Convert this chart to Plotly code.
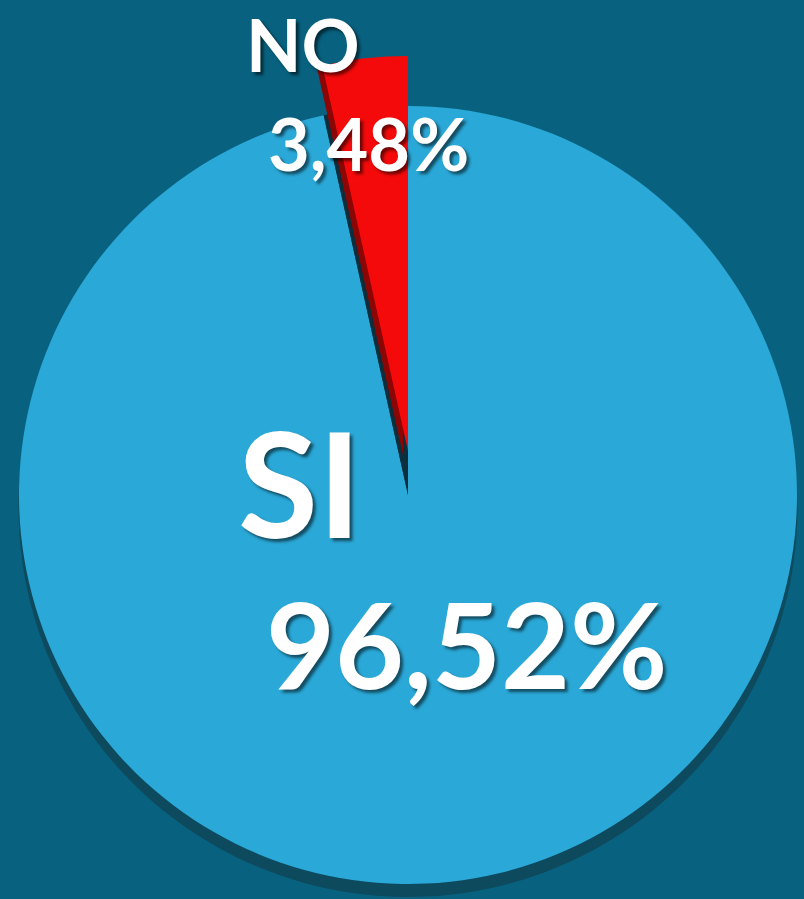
import plotly.graph_objects as go

# ---- data ----
labels = ["SI", "NO"]
values = [96.52, 3.48]
slice_colors = ["#2aa8d7", "#f40a0a"]

W, H = 804, 899
BG = "#08617f"
RIM = "#0e4a5e"
NOTCH = "#0b2f3c"
RED_SIDE = "#8c0606"
CLEAR = "rgba(0,0,0,0)"


def dom(x0, x1, y0, y1):
    """pixel box -> paper domain"""
    return dict(x=[x0 / W, x1 / W], y=[1 - y1 / H, 1 - y0 / H])


def pie(colors, domain):
    return go.Pie(
        labels=labels, values=values, sort=False, direction="clockwise",
        rotation=0, marker=dict(colors=colors, line=dict(width=0)),
        textinfo="none", hoverinfo="skip", showlegend=False, domain=domain,
    )


fig = go.Figure()
# 3D rim of the pie (below)
fig.add_trace(pie([RIM, RIM], dom(16, 800, 118, 897)))
# main pie face, with a dark notch where the NO slice was pulled out
fig.add_trace(pie([slice_colors[0], NOTCH], dom(17, 799, 106, 884)))
# red slice side face
fig.add_trace(pie([CLEAR, RED_SIDE], dom(8, 798, 60, 850)))
# pulled-out red slice
fig.add_trace(pie([CLEAR, slice_colors[1]], dom(12, 804, 56, 846)))


def fmt(v):
    return f"{v:.2f}".replace(".", ",") + "%"


shadow = "3px 3px 3px rgba(0,0,0,0.55)"
font_family = "Lato, Inter, sans-serif"
ann = [
    (labels[0], 299, 481, 146, "middle"),
    (fmt(values[0]), 466, 643, 119, "middle"),
    (labels[1], 303, 0, 72, "top"),
    (fmt(values[1]), 368, 143, 72, "middle"),
]
for text, px, py, size, ya in ann:
    fig.add_annotation(
        text=f"<b>{text}</b>", x=px / W, y=1 - py / H, xref="paper", yref="paper",
        showarrow=False, xanchor="center", yanchor=ya, borderpad=0,
        font=dict(family=font_family, size=size, color="white", shadow=shadow),
    )

fig.update_layout(
    width=W, height=H, margin=dict(l=0, r=0, t=0, b=0),
    paper_bgcolor=BG, plot_bgcolor=BG, showlegend=False,
)
fig.write_html(
    "out.html",
    config={"displayModeBar": False},
    post_script="document.body.style.margin='0';document.body.style.overflow='hidden';",
)
